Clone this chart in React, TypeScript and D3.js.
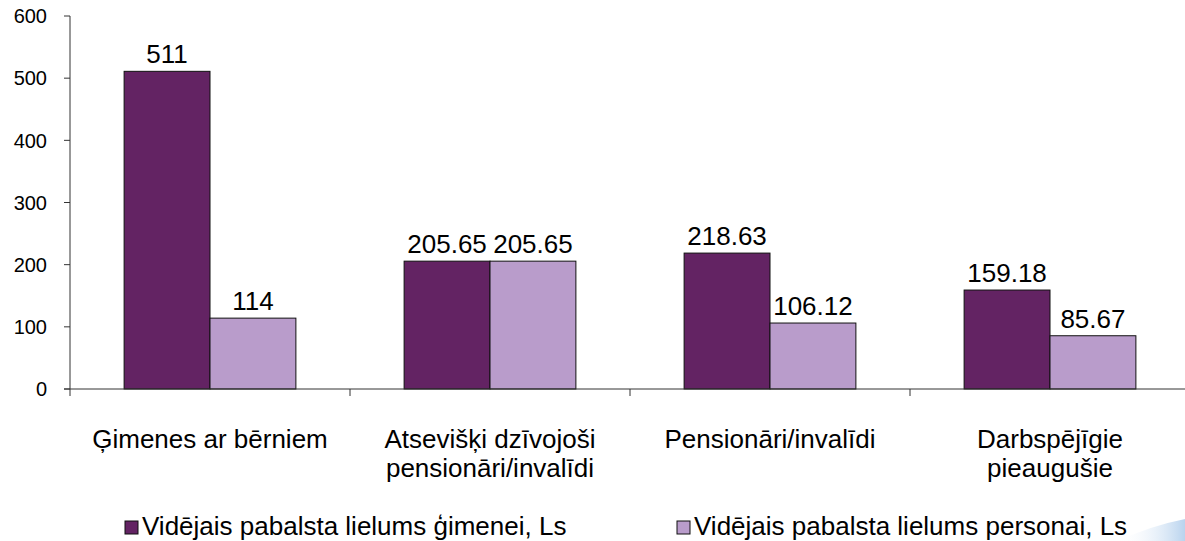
import React from "react";
import * as d3 from "d3";

const categories: string[][] = [
  ["Ģimenes ar bērniem"],
  ["Atsevišķi dzīvojoši", "pensionāri/invalīdi"],
  ["Pensionāri/invalīdi"],
  ["Darbspējīgie", "pieaugušie"],
];
const seriesNames = ["Vidējais pabalsta lielums ģimenei, Ls", "Vidējais pabalsta lielums personai, Ls"];
const familyValues = [511, 205.65, 218.63, 159.18];
const personValues = [114, 205.65, 106.12, 85.67];
const valueLabels = [["511", "205.65", "218.63", "159.18"], ["114", "205.65", "106.12", "85.67"]];
const yTicks = [0, 100, 200, 300, 400, 500, 600];
const colors = ["#632363", "#B99CCB"];

const W = 1185;
const H = 541;
const FONT = "'Liberation Sans', Arial, sans-serif";

export default function App() {
  const left = 70;
  const right = 1190;
  const top = 16;
  const bottom = 389;
  const y = d3.scaleLinear().domain([0, 600]).range([bottom, top]);
  const keys = categories.map((_, i) => String(i));
  const x0 = d3.scaleBand<string>().domain(keys).range([left, right]).paddingInner(0).paddingOuter(0);
  const x1 = d3.scaleBand<string>().domain(["0", "1"]).range([0, x0.bandwidth()]).paddingInner(0).paddingOuter(0.63);
  const series = [familyValues, personValues];
  const bandTicks = [...keys.map((k) => x0(k) as number), right];

  return (
    <svg width={W} height={H} style={{ position: "absolute", left: 0, top: 0, background: "#fff" }} fontFamily={FONT}>
      <defs>
        <linearGradient id="sw" x1="0" x2="1" y1="0" y2="0">
          <stop offset="0" stopColor="#ffffff" stopOpacity="0" />
          <stop offset="1" stopColor="#b9d3ee" />
        </linearGradient>
      </defs>
      <rect x={0} y={0} width={W} height={H} fill="#fff" />
      {series.map((vals, s) =>
        vals.map((v, i) => {
          const bx = (x0(keys[i]) as number) + (x1(String(s)) as number);
          const bw = x1.bandwidth();
          return (
            <g key={`${s}-${i}`}>
              <rect x={bx} y={y(v)} width={bw} height={y(0) - y(v)} fill={colors[s]} stroke="#111" strokeWidth={1} />
              <text x={bx + bw / 2} y={y(v) - 8} textAnchor="middle" fontSize={26} fill="#000">
                {valueLabels[s][i]}
              </text>
            </g>
          );
        })
      )}
      <line x1={left} x2={left} y1={top} y2={bottom} stroke="#333" strokeWidth={1} />
      {yTicks.map((t) => (
        <g key={t}>
          <line x1={left - 6} x2={left} y1={y(t)} y2={y(t)} stroke="#333" />
          <text x={47} y={y(t)} dy="0.36em" textAnchor="end" fontSize={20} fill="#000">
            {t}
          </text>
        </g>
      ))}
      <line x1={left - 6} x2={right} y1={bottom} y2={bottom} stroke="#333" strokeWidth={1} />
      {bandTicks.map((t, i) => (
        <line key={i} x1={t} x2={t} y1={bottom} y2={bottom + 7} stroke="#333" />
      ))}
      {categories.map((lines, i) => (
        <text key={i} textAnchor="middle" fontSize={26} fill="#000">
          {lines.map((ln, j) => (
            <tspan key={j} x={(x0(keys[i]) as number) + x0.bandwidth() / 2} y={448 + j * 29}>
              {ln}
            </tspan>
          ))}
        </text>
      ))}
      {seriesNames.map((name, s) => {
        const lx = s === 0 ? 125 : 677;
        return (
          <g key={s}>
            <rect x={lx} y={521} width={13} height={13} fill={colors[s]} stroke="#111" />
            <text x={lx + 17} y={535} fontSize={26} fill="#000">
              {name}
            </text>
          </g>
        );
      })}
      <path d="M1118,541 Q1150,526 1185,519 L1185,541 Z" fill="url(#sw)" />
    </svg>
  );
}
